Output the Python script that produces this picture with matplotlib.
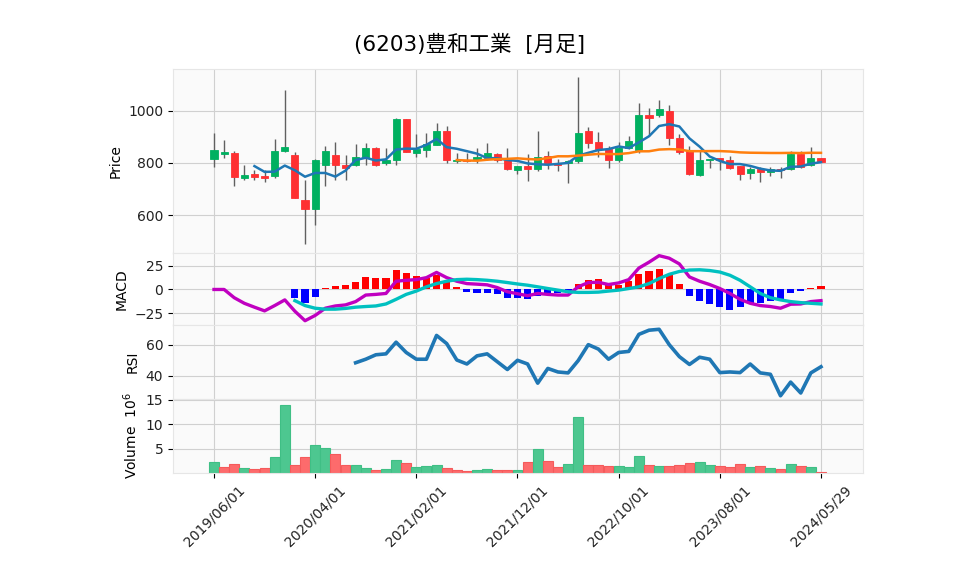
import matplotlib
matplotlib.use('Agg')
import matplotlib.pyplot as plt
import numpy as np
import pandas as pd

plt.rcParams['font.family'] = ['DejaVu Sans', 'Noto Sans CJK JP']

title = '(6203)豊和工業  [月足]'

# monthly OHLC
opens = [815, 833, 839, 741, 759, 751, 749, 846, 831, 660,
         623, 791, 830, 794, 794, 819, 858, 798, 810, 968,
         839, 851, 867, 924, 806, 812, 813, 819, 836, 810,
         772, 790, 776, 826, 797, 800, 806, 924, 881, 854,
         810, 858, 848, 985, 982, 999, 896, 844, 754, 810,
         819, 813, 787, 761, 776, 764, 778, 776, 833, 791,
         819]
highs = [915, 888, 847, 792, 774, 774, 892, 1079, 841, 736,
         815, 866, 882, 830, 872, 878, 862, 858, 972, 968,
         911, 915, 953, 942, 837, 838, 858, 878, 839, 858,
         790, 836, 922, 847, 817, 813, 1129, 938, 919, 863,
         881, 904, 1031, 1010, 1041, 1020, 911, 866, 844, 817,
         819, 826, 787, 784, 784, 784, 784, 846, 846, 861,
         819]
lows = [785, 818, 711, 736, 736, 726, 743, 843, 665, 491,
        564, 711, 736, 736, 790, 792, 787, 794, 794, 841,
        823, 823, 867, 800, 800, 805, 800, 810, 805, 774,
        758, 732, 769, 776, 769, 723, 800, 858, 823, 781,
        805, 855, 839, 902, 975, 870, 834, 755, 750, 782,
        773, 778, 736, 740, 726, 751, 743, 774, 779, 790,
        804]
closes = [851, 843, 745, 755, 746, 741, 847, 861, 665, 623,
          813, 847, 791, 780, 824, 858, 794, 813, 968, 841,
          854, 871, 924, 812, 810, 808, 824, 839, 810, 776,
          790, 776, 823, 801, 792, 809, 915, 877, 854, 810,
          859, 885, 985, 971, 1006, 894, 841, 758, 813, 817,
          810, 781, 758, 778, 764, 776, 774, 835, 783, 819,
          804]
# volume in millions of shares
volumes = [2.36, 1.3, 1.9, 1.1, 0.83, 1.1, 3.2, 14.0, 1.7, 3.2,
           5.7, 5.1, 4.0, 1.7, 1.7, 1.1, 0.6, 0.9, 2.6, 2.15,
           1.3, 1.5, 1.7, 1.1, 0.7, 0.4, 0.7, 0.9, 0.7, 0.65,
           0.7, 2.3, 4.9, 2.5, 1.3, 1.9, 11.5, 1.7, 1.7, 1.5,
           1.5, 1.25, 3.5, 1.7, 1.5, 1.5, 1.7, 2.1, 2.3, 1.7,
           1.5, 1.25, 1.9, 1.25, 1.5, 1.0, 0.8, 1.9, 1.5, 1.25,
           0.2]

macd = [0, 0, -8.7, -14.6, -18.7, -22.6, -17, -11, -23, -33,
        -27.4, -19.8, -17.4, -16.3, -12.8, -5.9, -5.2, -4.2, 8.7, 9.7,
        10.4, 12.5, 18, 12.5, 8.7, 6.2, 5.6, 4.9, 2, -2.4,
        -4.5, -6.6, -4.2, -5.2, -5.9, -5.9, 2.8, 7.3, 7.6, 5.2,
        6.9, 10.4, 22.6, 28.8, 35.7, 33, 27, 13.2, 8.7, 5.2,
        1, -4.2, -10.4, -14.6, -17, -18, -19.8, -15.6, -15.3, -12.8,
        -11.8]
signal = [np.nan] * 8 + [
    -11.8, -17,
    -19.8, -20.8, -20.8, -20, -18.7, -18, -17.4, -15.3, -10.4, -5.2,
    -1.7, 2.8, 6.2, 8.7, 10.4, 10.8, 10.4, 9.7, 8.7, 7.3,
    5.8, 4.5, 2.8, 1, -0.7, -2.4, -3.1, -3.1, -2.8, -1.7,
    -0.7, 1, 2.8, 6.2, 11.5, 16, 19, 20.5, 20.8, 20,
    18.4, 15, 9.7, 2.8, -4.2, -8.7, -11, -12.8, -13.9, -14.6,
    -15.3]
hist = [np.nan] * 8 + [
    -8.7, -14.6,
    -7.6, 1.4, 3.5, 4.9, 7.6, 12.8, 11.8, 11.8, 20.1, 17,
    14.2, 12.1, 15.6, 7.6, 2.4, -2.4, -4.2, -4.2, -5.2, -8.7,
    -9.5, -9.7, -6.6, -5.2, -4.2, -3.5, 6.2, 9.7, 10.8, 4.5,
    4.5, 8.7, 16, 19, 21.9, 14.9, 6.2, -6.6, -11.8, -15.6,
    -18, -22.2, -18.7, -14.6, -13.9, -11.8, -10.4, -4.2, -1.7, 1.4,
    3.5]
rsi = [np.nan] * 14 + [
    48.4, 50.7, 53.6, 54.2, 61.8, 55.1,
    50.7, 50.7, 66.2, 60.9, 50.2, 47.6, 52.9, 54.2, 49.1, 44,
    50.0, 47.6, 35.1, 44.7, 42.4, 41.8, 49.8, 60.2, 57.3, 50.7,
    55.1, 55.8, 66.9, 69.6, 70.2, 60.2, 52.4, 47.3, 52, 50.7,
    42, 42.4, 42, 47.6, 41.8, 40.9, 26.9, 35.8, 28.7, 41.8,
    45.8]

tick_labels = ['2019/06/01', '2020/04/01', '2021/02/01', '2021/12/01',
               '2022/10/01', '2023/08/01', '2024/05/29']

o = np.array(opens, float)
h = np.array(highs, float)
l = np.array(lows, float)
c = np.array(closes, float)
x = np.arange(len(c))
ma5 = pd.Series(c).rolling(5).mean()
ma25 = pd.Series(c).rolling(25).mean()

up_c, dn_c = '#00b060', '#fe3032'
up = c >= o
vol_up = np.r_[True, c[1:] >= c[:-1]]

fig = plt.figure(figsize=(9.58, 5.75), dpi=100)
L, W = 0.1806, 0.7202
ax1 = fig.add_axes([L, 0.560, W, 0.320])
ax2 = fig.add_axes([L, 0.4348, W, 0.1252], sharex=ax1)
ax3 = fig.add_axes([L, 0.3061, W, 0.1287], sharex=ax1)
ax4 = fig.add_axes([L, 0.1774, W, 0.1287], sharex=ax1)

for ax in [ax1, ax2, ax3, ax4]:
    ax.set_facecolor('#fafafa')
    ax.grid(True, color='#d0d0d0', lw=0.8)
    ax.set_axisbelow(True)
    for s in ax.spines.values():
        s.set_color('#e6e6e6')
    ax.tick_params(labelsize=10, length=3.5, color='black', labelcolor='#222222')

# candles
ax1.vlines(x, l, h, color='#606060', lw=1, zorder=2)
body = np.maximum(np.abs(c - o), 1.5)
ax1.bar(x, body, bottom=np.minimum(o, c), width=0.7,
        color=np.where(up, up_c, dn_c), edgecolor=np.where(up, up_c, dn_c), lw=0.6, zorder=3)
ax1.plot(x, ma5, color='#1f77b4', lw=1.8, zorder=4)
ax1.plot(x, ma25, color='#ff7f0e', lw=1.8, zorder=4)
ax1.set_ylim(456, 1159)
ax1.set_yticks([600, 800, 1000])
ax1.set_ylabel('Price', fontsize=10)

# MACD
hv = np.array(hist, float)
ax2.bar(x, hv, width=0.7, color=np.where(hv >= 0, 'red', 'blue'), zorder=2)
ax2.plot(x, macd, color='#c000c0', lw=2.4, zorder=3)
ax2.plot(x, signal, color='#00c0c0', lw=2.4, zorder=3)
ax2.set_ylim(-37.5, 38.5)
ax2.set_yticks([-25, 0, 25])
ax2.set_ylabel('MACD', fontsize=10)

# RSI
ax3.plot(x, rsi, color='#1f77b4', lw=2.6)
ax3.set_ylim(24.8, 73)
ax3.set_yticks([40, 60])
ax3.set_ylabel('RSI', fontsize=10)

# volume
ax4.bar(x, volumes, width=0.98, color=np.where(vol_up, '#4dc790', '#fd6b6c'),
        edgecolor=np.where(vol_up, '#3fbf85', '#f55a5b'), lw=0.8, zorder=2)
ax4.set_ylim(0, 15.2)
ax4.set_yticks([5, 10, 15])
ax4.set_ylabel('Volume  $10^6$', fontsize=10)

ax4.set_xlim(-4.05, 64.15)
ax4.set_xticks(np.arange(0, 61, 10))
ax4.set_xticklabels(tick_labels, rotation=45, fontsize=10)
for ax in [ax1, ax2, ax3]:
    ax.tick_params(axis='x', labelbottom=False, length=0)

fig.text(0.49, 0.922, title, ha='center', va='center', fontsize=15.5)

fig.savefig('out.png', dpi=100)
